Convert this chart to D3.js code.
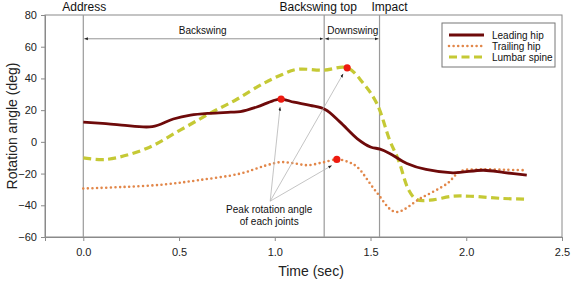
<!DOCTYPE html>
<html>
<head>
<meta charset="utf-8">
<script src="https://cdn.jsdelivr.net/npm/d3@7"></script>
<style>
  body { margin: 0; background: #fff; }
  svg { font-family: 'Liberation Sans', Arial, sans-serif; }
</style>
</head>
<body>
<div id="chart"></div>
<script>
// ── data ─────────────────────────────────────────────────────────
const leadingT = [0, 0.1, 0.2, 0.36, 0.47, 0.56, 0.66, 0.77, 0.82, 0.906, 0.99, 1.033, 1.1, 1.185, 1.263, 1.34, 1.43, 1.5, 1.55, 1.6, 1.69, 1.79, 1.93, 2.09, 2.2, 2.316]
const leadingV = [12.4, 11.6, 10.6, 9.6, 14.4, 16.8, 18.0, 18.7, 19.1, 22.0, 25.9, 27.0, 25.0, 23.0, 20.4, 12.6, 2.1, -3.2, -4.6, -7.3, -13.6, -17.4, -19.5, -17.9, -19.4, -21.0]

const trailingT = [0, 0.2, 0.42, 0.6, 0.82, 0.95, 1.03, 1.1, 1.17, 1.25, 1.324, 1.38, 1.43, 1.53, 1.63, 1.76, 1.9, 1.97, 2.07, 2.2, 2.316]
const trailingV = [-29.4, -28.5, -26.9, -24.2, -20.0, -15.0, -12.8, -13.5, -14.7, -13.0, -11.1, -12.5, -15.8, -31.5, -44.2, -35.7, -26.3, -18.5, -17.4, -17.6, -17.9]

const lumbarT = [0, 0.12, 0.33, 0.506, 0.66, 0.8, 0.94, 1.03, 1.115, 1.254, 1.378, 1.463, 1.533, 1.6, 1.646, 1.7, 1.74, 1.81, 1.93, 2.02, 2.19, 2.316]
const lumbarV = [-10.1, -11.1, -4.2, 7.4, 17.9, 26.7, 36.8, 42.0, 45.7, 45.2, 46.7, 36.8, 24.2, 1.1, -11.5, -30.5, -36.3, -36.8, -34.3, -34.3, -35.7, -36.2]

const seriesNames = ['Leading hip', 'Trailing hip', 'Lumbar spine']
const peakT = [1.033, 1.324, 1.378]
const peakV = [27.0, -11.1, 46.7]

const eventNames = ['Address', 'Backswing top', 'Impact']
const eventT = [0, 1.258, 1.547]
const phaseNames = ['Backswing', 'Downswing']
const phaseArrowV = 65

const xTicks = [0, 0.5, 1.0, 1.5, 2.0, 2.5]
const yTicks = [-60, -40, -20, 0, 20, 40, 60, 80]

// ── layout ───────────────────────────────────────────────────────
const width = 572, height = 281
const PLOT = { left: 45, right: 562, top: 15, bottom: 237 }

const svg = d3.select('#chart').append('svg').attr('width', width).attr('height', height)

const x = d3.scaleLinear().domain([-0.2, 2.5]).range([PLOT.left, PLOT.right])
const y = d3.scaleLinear().domain([-60, 80]).range([PLOT.bottom, PLOT.top])

const defs = svg.append('defs')
const mkArrow = (id, orient) => defs.append('marker')
  .attr('id', id).attr('viewBox', '0 0 10 10').attr('refX', 10).attr('refY', 5)
  .attr('markerWidth', 4.5).attr('markerHeight', 4.5).attr('orient', orient)
  .append('path').attr('d', 'M0,1 L10,5 L0,9 Z').attr('fill', '#222')
mkArrow('arr', 'auto')
mkArrow('arrStart', 'auto-start-reverse')

// ── frame + axes ─────────────────────────────────────────────────
svg.append('rect')
  .attr('x', PLOT.left).attr('y', PLOT.top)
  .attr('width', PLOT.right - PLOT.left).attr('height', PLOT.bottom - PLOT.top)
  .attr('fill', 'none').attr('stroke', '#8a8a8a').attr('stroke-width', 1)

const gx = svg.append('g').attr('transform', `translate(0,${PLOT.bottom})`)
  .call(d3.axisBottom(x).tickValues(xTicks).tickFormat(d3.format('.1f')).tickSize(4).tickPadding(7))
const gy = svg.append('g').attr('transform', `translate(${PLOT.left},0)`)
  .call(d3.axisLeft(y).tickValues(yTicks).tickSize(4).tickPadding(4))
;[gx, gy].forEach(g => {
  g.select('.domain').attr('stroke', '#8a8a8a')
  g.selectAll('line').attr('stroke', '#8a8a8a')
  g.selectAll('text').style('font-size', '11px').attr('fill', '#222')
})

svg.append('text').attr('x', 311).attr('y', 276).attr('text-anchor', 'middle')
  .style('font-size', '14px').attr('fill', '#222').text('Time (sec)')
svg.append('text').attr('transform', 'rotate(-90)')
  .attr('x', -126).attr('y', 17).attr('text-anchor', 'middle')
  .style('font-size', '14px').attr('fill', '#222').text('Rotation angle (deg)')

// ── event lines + phase arrows ───────────────────────────────────
const labelDx = [1, -6, 10]
eventT.forEach((t, i) => {
  svg.append('line')
    .attr('x1', x(t)).attr('x2', x(t)).attr('y1', PLOT.top).attr('y2', PLOT.bottom)
    .attr('stroke', '#9a9a9a').attr('stroke-width', 1.2)
  svg.append('text').attr('x', x(t) + labelDx[i]).attr('y', 11).attr('text-anchor', 'middle')
    .style('font-size', '12px').attr('fill', '#111').text(eventNames[i])
})
phaseNames.forEach((p, i) => {
  const x1 = x(eventT[i]), x2 = x(eventT[i + 1])
  svg.append('line')
    .attr('x1', x1 + 1).attr('x2', x2 - 1).attr('y1', y(phaseArrowV)).attr('y2', y(phaseArrowV))
    .attr('stroke', '#777').attr('stroke-width', 0.8)
    .attr('marker-start', 'url(#arrStart)').attr('marker-end', 'url(#arr)')
  svg.append('text').attr('x', (x1 + x2) / 2 + (i === 0 ? -1 : 1)).attr('y', y(phaseArrowV) - 5)
    .attr('text-anchor', 'middle').style('font-size', '10px').attr('fill', '#111').text(p)
})

// ── series ───────────────────────────────────────────────────────
const zip = (ts, vs) => ts.map((t, i) => ({ t, v: vs[i] }))
const line = d3.line().x(d => x(d.t)).y(d => y(d.v)).curve(d3.curveCatmullRom.alpha(0.5))

const styles = [
  { color: '#6e0a0a', width: 2.8, dash: null, cap: 'butt' },
  { color: '#e2874a', width: 2.6, dash: '0 4.6', cap: 'round' },
  { color: '#c5c935', width: 3.2, dash: '8 4.5', cap: 'butt' },
]
const seriesData = [zip(leadingT, leadingV), zip(trailingT, trailingV), zip(lumbarT, lumbarV)]

// draw order: lumbar first, trailing, leading on top
;[2, 1, 0].forEach(i => {
  const s = styles[i]
  svg.append('path').datum(seriesData[i])
    .attr('d', line).attr('fill', 'none')
    .attr('stroke', s.color).attr('stroke-width', s.width)
    .attr('stroke-dasharray', s.dash).attr('stroke-linecap', s.cap)
})

// ── peak markers + annotation ────────────────────────────────────
const peaks = zip(peakT, peakV)
svg.selectAll('circle.peak').data(peaks).join('circle').attr('class', 'peak')
  .attr('cx', d => x(d.t)).attr('cy', d => y(d.v)).attr('r', 3.6).attr('fill', '#ee1a10')

const annoT = 0.976, annoV = -37.4
const ax = x(annoT), ay = y(annoV)
// arrow tips stop just short of each marker
const tipOffset = [[-1, 8], [-5, 6], [-4, 6]]
peaks.forEach((d, i) => {
  svg.append('line')
    .attr('x1', ax).attr('y1', ay)
    .attr('x2', x(d.t) + tipOffset[i][0]).attr('y2', y(d.v) + tipOffset[i][1])
    .attr('stroke', '#b5b5b5').attr('stroke-width', 0.8)
    .attr('marker-end', 'url(#arr)')
})
svg.append('text').attr('x', ax - 1).attr('y', ay + 12).attr('text-anchor', 'middle')
  .style('font-size', '10px').attr('fill', '#111')
  .selectAll('tspan').data(['Peak rotation angle', 'of each joints']).join('tspan')
  .attr('x', ax - 1).attr('dy', (d, i) => i === 0 ? 0 : 12).text(d => d)

// ── legend ───────────────────────────────────────────────────────
const lg = svg.append('g').attr('transform', 'translate(442,23)')
lg.append('rect').attr('width', 113).attr('height', 44)
  .attr('fill', '#fff').attr('stroke', '#777').attr('stroke-width', 1)
seriesNames.forEach((name, i) => {
  const s = styles[i]
  const ly = 12 + i * 11
  lg.append('line').attr('x1', 7).attr('x2', 42).attr('y1', ly).attr('y2', ly)
    .attr('stroke', s.color).attr('stroke-width', s.width)
    .attr('stroke-dasharray', s.dash).attr('stroke-linecap', s.cap)
  lg.append('text').attr('x', 50).attr('y', ly + 3.5)
    .style('font-size', '10px').attr('fill', '#111').text(name)
})
</script>
</body>
</html>
